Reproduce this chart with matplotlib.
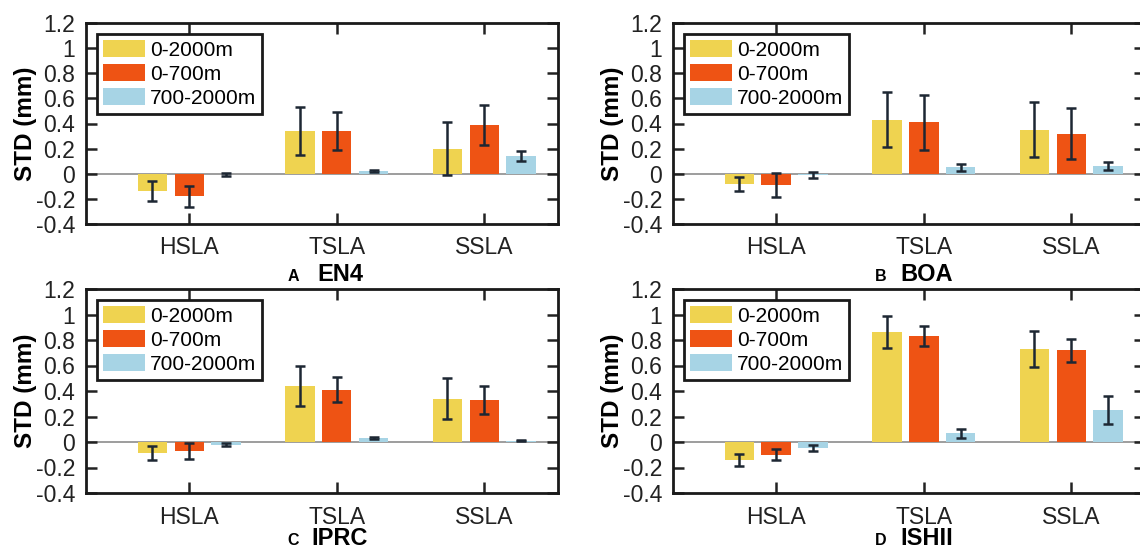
import matplotlib.pyplot as plt
import numpy as np
from matplotlib.patches import Patch

plt.rcParams['font.family'] = ['Liberation Sans', 'DejaVu Sans']

categories = ['HSLA', 'TSLA', 'SSLA']
series = ['0-2000m', '0-700m', '700-2000m']
colors = ['#EFD350', '#EE5314', '#A7D4E5']

letters = ['A', 'B', 'C', 'D']
datasets = ['EN4', 'BOA', 'IPRC', 'ISHII']

# rows = series (0-2000m, 0-700m, 700-2000m), columns = HSLA, TSLA, SSLA
en4_mean = [[-0.14, 0.34, 0.20], [-0.18, 0.34, 0.39], [-0.005, 0.02, 0.14]]
en4_err = [[0.08, 0.19, 0.21], [0.085, 0.15, 0.16], [0.01, 0.01, 0.04]]

boa_mean = [[-0.08, 0.43, 0.35], [-0.09, 0.41, 0.32], [-0.01, 0.05, 0.06]]
boa_err = [[0.055, 0.22, 0.22], [0.095, 0.22, 0.20], [0.022, 0.03, 0.03]]

iprc_mean = [[-0.09, 0.44, 0.34], [-0.07, 0.41, 0.33], [-0.02, 0.03, 0.01]]
iprc_err = [[0.055, 0.16, 0.16], [0.065, 0.10, 0.11], [0.012, 0.01, 0.005]]

ishii_mean = [[-0.14, 0.86, 0.73], [-0.10, 0.83, 0.72], [-0.05, 0.07, 0.25]]
ishii_err = [[0.047, 0.125, 0.14], [0.045, 0.08, 0.09], [0.024, 0.035, 0.11]]

means = [en4_mean, boa_mean, iprc_mean, ishii_mean]
errs = [en4_err, boa_err, iprc_err, ishii_err]

yticks = [-0.4, -0.2, 0, 0.2, 0.4, 0.6, 0.8, 1, 1.2]
ytick_labels = ['-0.4', '-0.2', '0', '0.2', '0.4', '0.6', '0.8', '1', '1.2']

W, H = 1140, 550
fig = plt.figure(figsize=(W / 100, H / 100), dpi=100)

# axes boxes in pixels: left, top, width, height (right column runs off the edge)
boxes = [(86, 23, 472, 201), (673, 23, 472, 201),
         (86, 289, 472, 204), (673, 289, 472, 204)]
# how far below the axes the panel titles sit (bottom row pulled up to fit)
title_drop = [-57, -57, -52, -52]

offsets = [-0.25, 0, 0.25]
x = np.arange(1, 4)

for k in range(4):
    l, t, w, h = boxes[k]
    ax = fig.add_axes([l / W, (H - t - h) / H, w / W, h / H])

    ax.axhline(0, color='#8c8c8c', lw=1.2, zorder=1)
    for i in range(3):
        ax.bar(x + offsets[i], means[k][i], width=0.2, color=colors[i],
               linewidth=0, zorder=2)
        ax.errorbar(x + offsets[i], means[k][i], yerr=errs[k][i], fmt='none',
                    ecolor='#1d2733', elinewidth=1.8, capsize=3.5, capthick=1.8,
                    zorder=3)

    ax.set_xlim(0.3, 3.5)
    ax.set_ylim(-0.4, 1.2)
    ax.set_xticks(x, categories)
    ax.set_yticks(yticks, ytick_labels)
    ax.tick_params(direction='in', length=8, width=1.8, top=True, right=True,
                   labelsize=16.5, colors='#222222')
    ax.tick_params(axis='x', pad=9)
    ax.tick_params(axis='y', pad=8)
    for s in ax.spines.values():
        s.set_linewidth(2)
        s.set_color('#1a1a1a')

    ax.set_ylabel('STD (mm)', fontsize=17.5, fontweight='bold')
    ax.yaxis.set_label_coords(-0.104, 0.5)

    handles = [Patch(facecolor=c, edgecolor='none') for c in colors]
    leg = ax.legend(handles, series, loc='upper left', bbox_to_anchor=(0.024, 0.945),
                    borderaxespad=0, fontsize=15, fancybox=False, edgecolor='#1a1a1a',
                    framealpha=1, handlelength=2.0, handleheight=0.9,
                    handletextpad=0.25, labelspacing=0.2, borderpad=0.28)
    leg.get_frame().set_linewidth(2)

    # panel letter + dataset name under the axes
    ax.annotate(letters[k], xy=(0.439, 0), xycoords='axes fraction', xytext=(0, title_drop[k]),
                textcoords='offset pixels', ha='center', va='baseline',
                fontsize=11.5, fontweight='bold')
    ax.annotate(datasets[k], xy=(0.538, 0), xycoords='axes fraction', xytext=(0, title_drop[k]),
                textcoords='offset pixels', ha='center', va='baseline',
                fontsize=17, fontweight='bold')

fig.savefig('out.png', dpi=100)
